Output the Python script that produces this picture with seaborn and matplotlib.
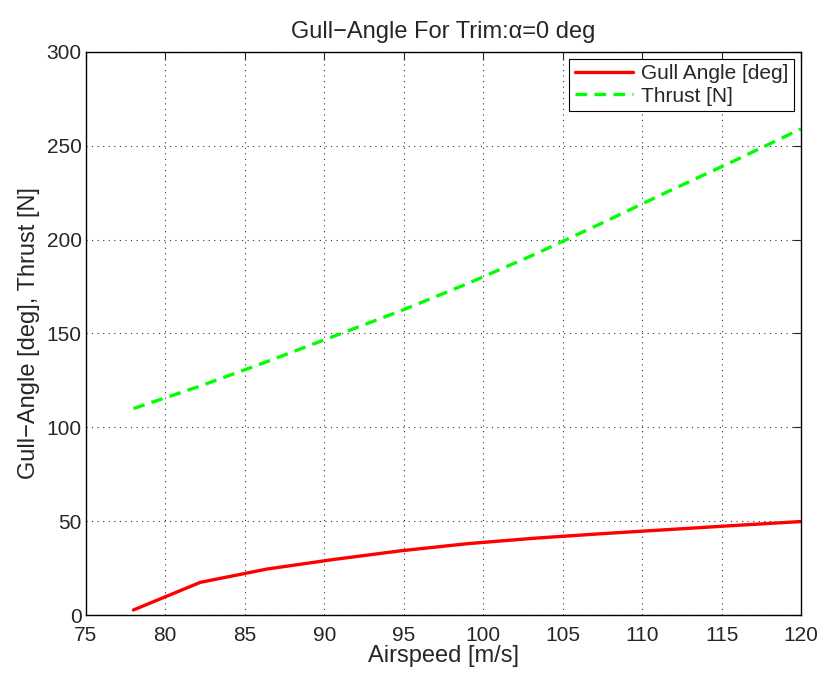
import pandas as pd
import matplotlib
matplotlib.use("Agg")
import matplotlib.pyplot as plt
import seaborn as sns

# data
airspeed = [78, 82.2, 86.4, 90.6, 94.8, 99, 103.2, 107.4, 111.6, 115.8, 120]
gull_angle = [2.7, 17.4, 24.5, 29.6, 34.2, 38, 40.9, 43.3, 45.5, 47.7, 49.8]
thrust = [110, 122, 135, 148.5, 162, 176.5, 192, 208.5, 225.5, 242, 259]
series_names = ["Gull Angle [deg]", "Thrust [N]"]

df = pd.DataFrame({
    "Airspeed": airspeed * 2,
    "Value": gull_angle + thrust,
    "Series": [series_names[0]] * len(airspeed) + [series_names[1]] * len(airspeed),
})

sns.set_style("white")
plt.rcParams["font.family"] = ["Liberation Sans", "DejaVu Sans"]

fig = plt.figure(figsize=(8.25, 6.74), dpi=100)
ax = fig.add_axes([0.104, 0.0875, 0.867, 0.8355])

sns.lineplot(data=df, x="Airspeed", y="Value", hue="Series", style="Series",
             palette=["#ff0000", "#00ff00"], dashes=[(None, None), (3.5, 2.2)],
             linewidth=2.4, ax=ax)

ax.set_xlim(75, 120)
ax.set_ylim(0, 300)
ax.set_xticks(range(75, 121, 5))
ax.set_yticks(range(0, 301, 50))
ax.grid(True, linestyle=(0, (1, 4)), color="black", linewidth=0.8, alpha=0.8)
ax.tick_params(direction="in", top=True, right=True, length=6, labelsize=15, width=0.8)
ax.tick_params(axis="x", pad=8)
ax.tick_params(axis="y", pad=3)
for s in ax.spines.values():
    s.set_color("black")
    s.set_linewidth(1.0)

ax.set_xlabel("Airspeed [m/s]", fontsize=17, labelpad=0)
ax.set_ylabel("Gull\u2212Angle [deg], Thrust [N]", fontsize=17, labelpad=5)
ax.set_title("Gull\u2212Angle For Trim:\u03b1=0 deg", fontsize=17, pad=10)

leg = ax.legend(loc="upper right", fontsize=15, frameon=True, fancybox=False,
                edgecolor="black", framealpha=1, borderaxespad=0.35,
                handlelength=2.8, borderpad=0.25, labelspacing=0.15,
                handletextpad=0.4)
leg.get_frame().set_linewidth(0.8)

fig.savefig("out.png", dpi=100)
